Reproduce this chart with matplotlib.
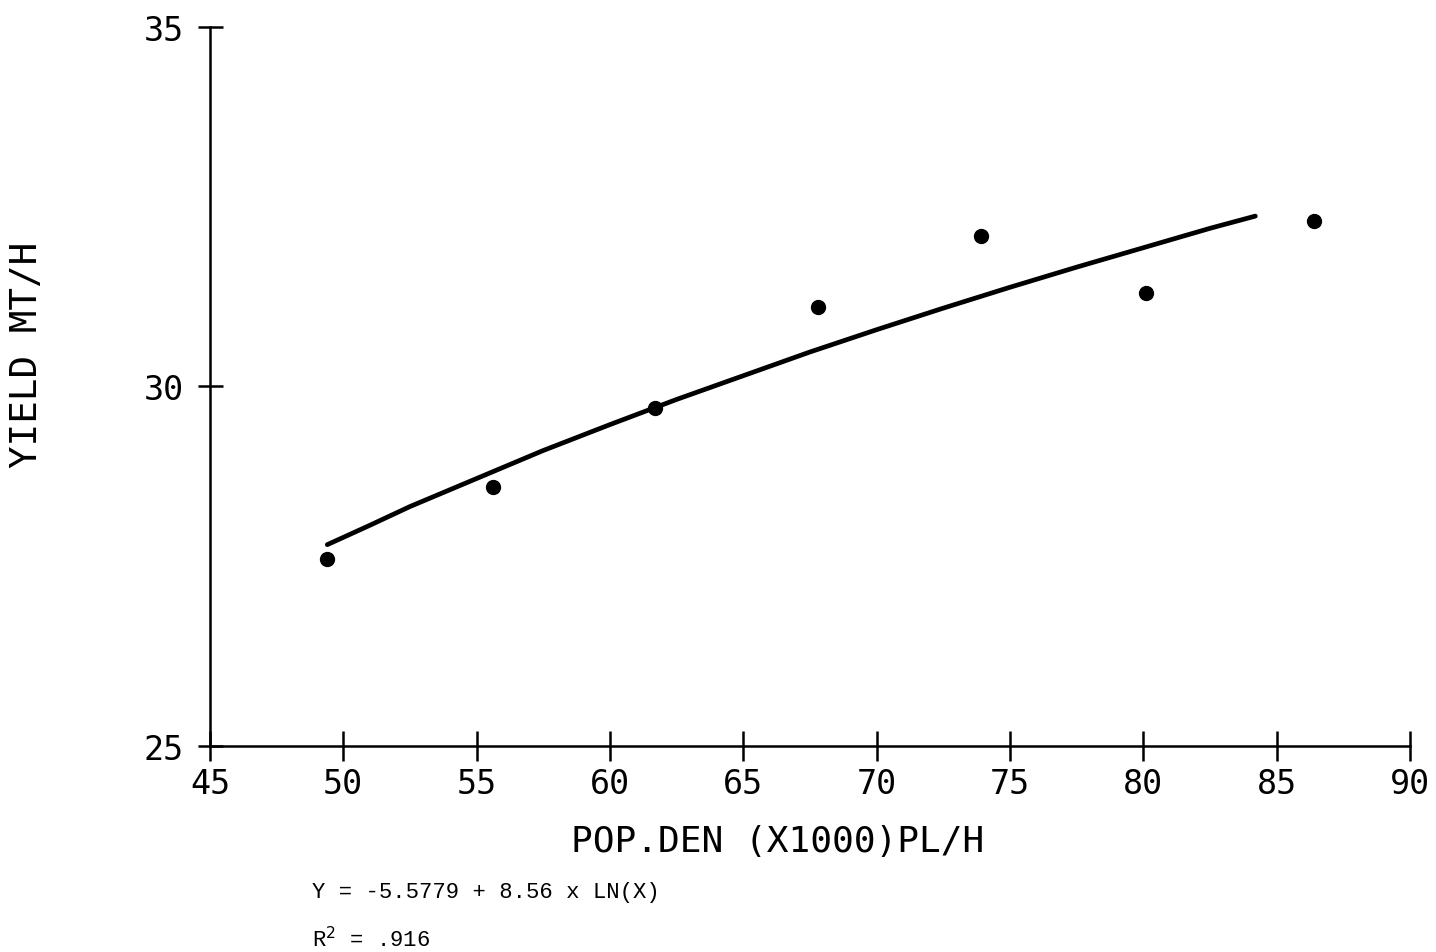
import numpy as np
import matplotlib
matplotlib.use('Agg')
import matplotlib.pyplot as plt

# observed points
pop_den = [49.4, 55.6, 61.7, 67.8, 73.9, 80.1, 86.4]
yield_mt = [27.6, 28.6, 29.7, 31.1, 32.1, 31.3, 32.3]

# fitted curve
fit_x = [49.4, 51.0, 52.5, 55.0, 57.5, 60.0, 62.5, 65.0, 67.5, 70.0, 72.5, 75.0, 77.5, 80.0, 82.5, 84.2]
fit_y = [27.80, 28.07, 28.33, 28.72, 29.11, 29.47, 29.82, 30.15, 30.48, 30.79, 31.09, 31.38, 31.66, 31.93, 32.20, 32.37]

xticks = [45, 50, 55, 60, 65, 70, 75, 80, 85, 90]
yticks = [25, 30, 35]

mono = 'DejaVu Sans Mono'

fig = plt.figure(figsize=(14.36, 9.53), dpi=100)
ax = fig.add_axes([0.1462, 0.2162, 0.8357, 0.7544])

ax.plot(fit_x, fit_y, color='black', lw=3.4, solid_capstyle='round', solid_joinstyle='round')
ax.plot(pop_den, yield_mt, 'o', color='black', ms=10)

ax.set_xlim(45, 90)
ax.set_ylim(25, 35)
ax.set_xticks(xticks)
ax.set_yticks(yticks)
ax.set_xticklabels([str(v) for v in xticks], family=mono, fontsize=24)
ax.set_yticklabels([str(v) for v in yticks], family=mono, fontsize=24)
ax.tick_params(axis='x', direction='inout', length=22, width=1.8, pad=4)
ax.tick_params(axis='y', direction='inout', length=18, width=1.8, pad=10)

for s in ['top', 'right']:
    ax.spines[s].set_visible(False)
for s in ['left', 'bottom']:
    ax.spines[s].set_linewidth(1.8)

ax.set_xlabel('POP.DEN (X1000)PL/H', family=mono, fontsize=26)
ax.set_ylabel('YIELD MT/H', family=mono, fontsize=27)
ax.xaxis.set_label_coords(0.473, -0.108)
ax.yaxis.set_label_coords(-0.1375, 0.545)

fig.text(0.217, 0.063, 'Y = -5.5779 + 8.56 x LN(X)', family='Liberation Mono',
         fontsize=16, ha='left', va='center')
fig.text(0.217, 0.014, r'R$^{2}$ = .916', family='Liberation Mono',
         fontsize=16, ha='left', va='center')

fig.savefig('out.png', dpi=100)
